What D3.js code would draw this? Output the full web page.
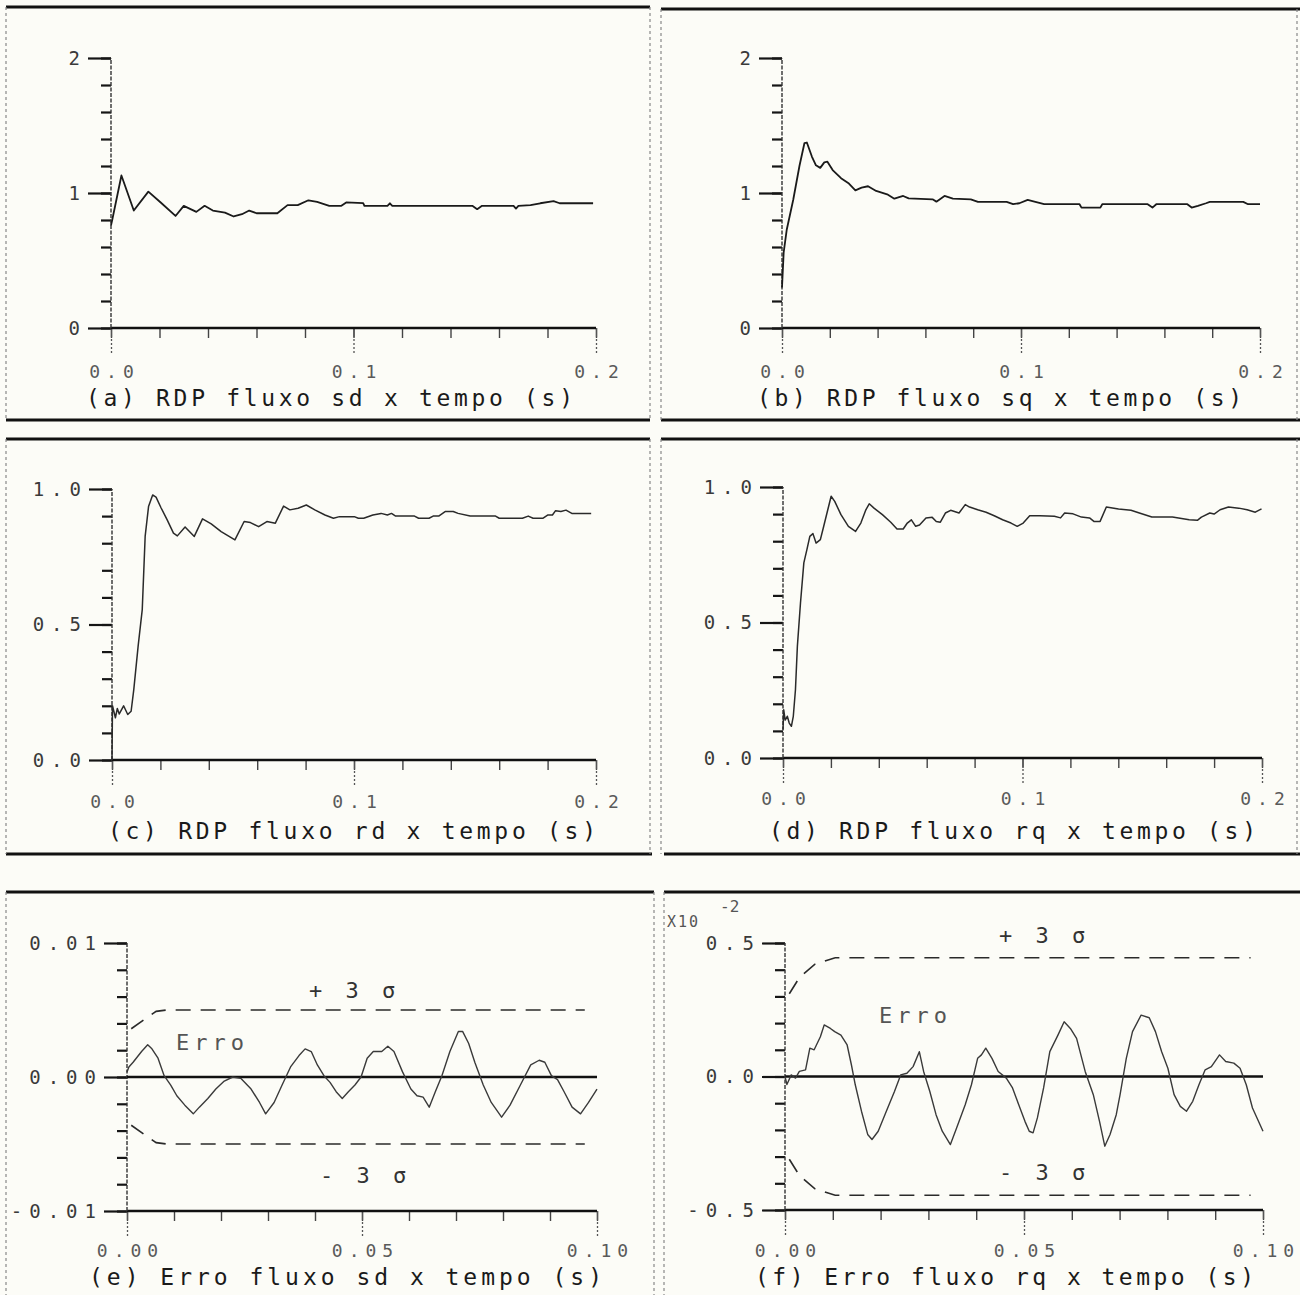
<!DOCTYPE html>
<html>
<head>
<meta charset="utf-8">
<script src="https://cdn.jsdelivr.net/npm/d3@7"></script>
<style>
  html, body { margin: 0; padding: 0; background: #fcfcf7; }
  svg { display: block; }
</style>
</head>
<body>
<svg id="chart" width="1300" height="1295"></svg>
<script>
// ---- data: [tempo (s), valor] ----
const fluxSd = [[0,0.76],[0.0005,0.80],[0.0043,1.13],[0.0094,0.87],[0.0154,1.01],[0.0205,0.93],[0.0266,0.83],
  [0.030,0.905],[0.0352,0.86],[0.0386,0.905],[0.042,0.87],[0.047,0.855],[0.0506,0.826],[0.054,0.843],[0.057,0.87],
  [0.060,0.85],[0.0686,0.85],[0.0728,0.91],[0.077,0.91],[0.0814,0.946],[0.085,0.934],[0.09,0.905],[0.095,0.905],
  [0.097,0.93],[0.104,0.925],[0.1045,0.905],[0.114,0.905],[0.115,0.924],[0.116,0.905],[0.149,0.905],[0.151,0.88],
  [0.153,0.905],[0.166,0.905],[0.167,0.885],[0.168,0.905],[0.173,0.91],[0.177,0.924],[0.1825,0.94],[0.185,0.924],[0.1988,0.924]]

const fluxSq = [[0,0.30],[0.0007,0.56],[0.002,0.73],[0.0047,0.95],[0.0073,1.2],[0.0094,1.37],[0.0104,1.374],[0.0125,1.27],
  [0.0142,1.205],[0.016,1.186],[0.0177,1.227],[0.019,1.232],[0.0212,1.17],[0.0247,1.11],[0.028,1.07],[0.0307,1.02],
  [0.0333,1.04],[0.036,1.05],[0.0394,1.015],[0.044,0.99],[0.047,0.958],[0.0507,0.978],[0.053,0.96],[0.063,0.953],
  [0.0646,0.936],[0.068,0.978],[0.0715,0.958],[0.079,0.953],[0.082,0.934],[0.094,0.934],[0.0967,0.917],[0.0993,0.924],
  [0.1028,0.949],[0.106,0.934],[0.1097,0.917],[0.1245,0.917],[0.1253,0.892],[0.1332,0.892],[0.134,0.917],[0.153,0.917],
  [0.155,0.892],[0.1566,0.917],[0.1696,0.917],[0.1714,0.892],[0.174,0.905],[0.1774,0.924],[0.179,0.934],[0.193,0.934],
  [0.195,0.917],[0.2,0.917]]

const fluxRd = [[0,0],[0.0002,0.2],[0.0006,0.186],[0.0014,0.156],[0.0022,0.19],[0.003,0.17],[0.0048,0.2],[0.0065,0.168],
  [0.0079,0.18],[0.009,0.26],[0.0108,0.42],[0.0125,0.555],[0.0137,0.825],[0.0151,0.935],[0.0168,0.978],[0.0182,0.97],
  [0.0203,0.93],[0.0228,0.886],[0.0254,0.837],[0.027,0.827],[0.0302,0.86],[0.034,0.825],[0.0374,0.89],[0.041,0.871],
  [0.0451,0.843],[0.0508,0.812],[0.0546,0.88],[0.0572,0.876],[0.0606,0.861],[0.064,0.88],[0.0675,0.874],[0.0709,0.937],
  [0.0735,0.923],[0.0769,0.929],[0.0803,0.941],[0.0838,0.923],[0.088,0.904],[0.0915,0.892],[0.094,0.898],[0.1001,0.898],
  [0.1018,0.892],[0.104,0.892],[0.1078,0.904],[0.1112,0.91],[0.1138,0.904],[0.1155,0.91],[0.1172,0.9],[0.125,0.9],
  [0.1267,0.892],[0.131,0.892],[0.1327,0.9],[0.135,0.9],[0.1378,0.917],[0.141,0.917],[0.143,0.91],[0.148,0.9],
  [0.1585,0.9],[0.16,0.892],[0.1696,0.892],[0.172,0.9],[0.174,0.892],[0.178,0.892],[0.18,0.904],[0.182,0.904],
  [0.1833,0.92],[0.1855,0.917],[0.1876,0.922],[0.19,0.91],[0.198,0.91]]

const fluxRq = [[0,0.105],[0.0003,0.178],[0.0009,0.14],[0.0018,0.154],[0.0026,0.129],[0.0035,0.117],[0.0043,0.154],
  [0.0052,0.252],[0.006,0.412],[0.0073,0.572],[0.0087,0.72],[0.01,0.77],[0.0112,0.818],[0.0125,0.828],[0.0138,0.793],
  [0.0156,0.806],[0.017,0.855],[0.0187,0.916],[0.0201,0.966],[0.0216,0.947],[0.0242,0.898],[0.0273,0.855],[0.0303,0.836],
  [0.0325,0.867],[0.0346,0.916],[0.036,0.938],[0.038,0.922],[0.0415,0.898],[0.045,0.87],[0.0476,0.845],[0.0502,0.845],
  [0.0519,0.867],[0.0536,0.879],[0.0554,0.855],[0.057,0.86],[0.0597,0.886],[0.0623,0.888],[0.064,0.873],[0.0657,0.87],
  [0.0678,0.904],[0.07,0.914],[0.0735,0.904],[0.0761,0.935],[0.0779,0.926],[0.0813,0.916],[0.0848,0.907],[0.0882,0.894],
  [0.0917,0.879],[0.0952,0.867],[0.0978,0.855],[0.1003,0.867],[0.103,0.894],[0.1073,0.894],[0.1133,0.892],[0.1159,0.886],
  [0.1176,0.904],[0.1211,0.901],[0.1246,0.889],[0.128,0.886],[0.1298,0.873],[0.1324,0.873],[0.135,0.926],[0.1401,0.919],
  [0.1453,0.914],[0.1488,0.904],[0.154,0.889],[0.1626,0.889],[0.1696,0.879],[0.173,0.877],[0.1747,0.889],[0.1782,0.904],
  [0.18,0.9],[0.1825,0.916],[0.186,0.926],[0.1903,0.922],[0.1938,0.916],[0.1972,0.907],[0.1998,0.919]]

const errSd = [[0,0.00037],[0.0004,0.00075],[0.0013,0.0011],[0.0031,0.0019],[0.0044,0.0024],[0.0053,0.0021],[0.0066,0.0014],
  [0.0079,0.0001],[0.0093,-0.0006],[0.0106,-0.0014],[0.0123,-0.0021],[0.0141,-0.00275],[0.0154,-0.00225],[0.0172,-0.0016],
  [0.0189,-0.0009],[0.0207,-0.0003],[0.0225,0],[0.0242,-0.0001],[0.0264,-0.0009],[0.0282,-0.0019],[0.0295,-0.00275],
  [0.0313,-0.0019],[0.033,-0.0006],[0.0348,0.00075],[0.0366,0.0016],[0.0379,0.0021],[0.0392,0.0019],[0.0405,0.0009],
  [0.0419,0.0001],[0.0432,-0.0004],[0.0445,-0.0011],[0.0458,-0.0016],[0.0471,-0.0011],[0.0485,-0.0006],[0.0498,0],
  [0.0511,0.0014],[0.0524,0.0019],[0.0542,0.0019],[0.0555,0.0023],[0.0568,0.0019],[0.0586,0.0004],[0.0604,-0.0009],
  [0.0617,-0.0014],[0.063,-0.0015],[0.0643,-0.00225],[0.0656,-0.0011],[0.067,0.0001],[0.0687,0.0019],[0.0705,0.0034],
  [0.0714,0.0034],[0.0727,0.0025],[0.074,0.0011],[0.0758,-0.0006],[0.0775,-0.0019],[0.0797,-0.003],[0.0815,-0.0021],
  [0.0837,-0.0006],[0.0859,0.0009],[0.0877,0.00125],[0.0889,0.0011],[0.0903,0.0001],[0.0916,-0.0002],[0.093,-0.0011],
  [0.0947,-0.00225],[0.0965,-0.00275],[0.0982,-0.0019],[0.1,-0.0009]]

// x10^-2
const errRq = [[0,0],[0.0004,-0.03],[0.0013,0.006],[0.0022,-0.006],[0.003,0.019],[0.0043,0.025],[0.0052,0.106],[0.0061,0.1],
  [0.0074,0.149],[0.0082,0.193],[0.0095,0.18],[0.0104,0.168],[0.0117,0.155],[0.013,0.118],[0.0139,0.043],[0.0147,-0.031],
  [0.016,-0.13],[0.0173,-0.217],[0.0182,-0.236],[0.0195,-0.205],[0.0212,-0.13],[0.0229,-0.056],[0.0242,0.006],[0.0255,0.012],
  [0.0268,0.037],[0.0281,0.093],[0.029,0.019],[0.0303,-0.056],[0.0316,-0.143],[0.0329,-0.205],[0.0346,-0.255],[0.0359,-0.193],
  [0.0377,-0.106],[0.039,-0.031],[0.0403,0.068],[0.0411,0.081],[0.042,0.106],[0.0433,0.068],[0.0446,0.019],[0.0463,-0.006],
  [0.0476,-0.043],[0.0489,-0.106],[0.0502,-0.168],[0.0511,-0.205],[0.0519,-0.211],[0.0528,-0.155],[0.0541,-0.043],[0.0554,0.093],
  [0.0571,0.155],[0.0584,0.205],[0.0597,0.18],[0.061,0.143],[0.0628,0.019],[0.0645,-0.068],[0.0658,-0.168],[0.0669,-0.261],
  [0.068,-0.217],[0.0693,-0.143],[0.0701,-0.068],[0.0714,0.068],[0.0727,0.168],[0.0745,0.23],[0.0762,0.22],[0.0775,0.168],
  [0.0788,0.093],[0.0801,0.031],[0.0814,-0.068],[0.0827,-0.112],[0.084,-0.13],[0.0853,-0.093],[0.0866,-0.031],[0.0879,0.025],
  [0.0892,0.037],[0.0909,0.081],[0.0922,0.056],[0.0939,0.05],[0.0952,0.031],[0.0965,-0.031],[0.0978,-0.118],[0.1,-0.205]]

// 3 sigma envelopes (drawn as +/-)
const sigmaSd = [[0.0009,0.0036],[0.0035,0.00425],[0.0062,0.0049],[0.0085,0.005],[0.0974,0.005]]
const sigmaRq = [[0.0009,0.31],[0.003,0.37],[0.0062,0.42],[0.0105,0.445],[0.0974,0.445]]

// ticks and labels
const xTicksFlux = [0, 0.1, 0.2]
const xLabelsFlux = ["0.0", "0.1", "0.2"]
const xTicksErr = [0, 0.05, 0.1]
const xLabelsErr = ["0.00", "0.05", "0.10"]
const yTicksSs = [0, 1, 2]
const yLabelsSs = ["0", "1", "2"]
const yTicksRr = [0, 0.5, 1]
const yLabelsRr = ["0.0", "0.5", "1.0"]
const yTicksErrSd = [-0.01, 0, 0.01]
const yLabelsErrSd = ["-0.01", "0.00", "0.01"]
const yTicksErrRq = [-0.5, 0, 0.5]
const yLabelsErrRq = ["-0.5", "0.0", "0.5"]

const captions = ["(a) RDP fluxo sd x tempo (s)", "(b) RDP fluxo sq x tempo (s)",
  "(c) RDP fluxo rd x tempo (s)", "(d) RDP fluxo rq x tempo (s)",
  "(e) Erro fluxo sd x tempo (s)", "(f) Erro fluxo rq x tempo (s)"]

const MONO = '"DejaVu Sans Mono", "Liberation Mono", monospace'
const svg = d3.select("#chart")
svg.append("rect").attr("width", 1300).attr("height", 1295).attr("fill", "#fcfcf7")

// page frame (plotter sheets)
const hRules = [[6,650,7],[661,1300,9],[6,650,420],[661,1300,420],[6,650,439],[661,1300,439],
  [6,652,854],[664,1300,854],[6,654,892],[664,1300,892]]
const vRules = [[6,7,420],[650,7,420],[661,9,420],[1297,9,420],[6,439,854],[650,439,854],[661,439,854],[1297,439,854],
  [6,892,1295],[654,892,1295],[664,892,1295]]
svg.selectAll("line.hr").data(hRules).join("line").attr("class","hr")
  .attr("x1", d => d[0]).attr("x2", d => d[1]).attr("y1", d => d[2]).attr("y2", d => d[2])
  .attr("stroke", "#111").attr("stroke-width", 3)
svg.selectAll("line.vr").data(vRules).join("line").attr("class","vr")
  .attr("x1", d => d[0]).attr("x2", d => d[0]).attr("y1", d => d[1]).attr("y2", d => d[2])
  .attr("stroke", "#888").attr("stroke-width", 1.2).attr("stroke-dasharray", "3 3")

const panels = [
  {series: fluxSd, xDomain:[0,0.2], yDomain:[0,2], xRange:[111,596], yRange:[328,58], xTicks:xTicksFlux, xLabels:xLabelsFlux,
   yTicks:yTicksSs, yLabels:yLabelsSs, xLabelY:378, caption:captions[0], capX:[91,568], capY:406, stroke:"#1a1a1a", sw:1.8},
  {series: fluxSq, xDomain:[0,0.2], yDomain:[0,2], xRange:[782,1260], yRange:[328,58], xTicks:xTicksFlux, xLabels:xLabelsFlux,
   yTicks:yTicksSs, yLabels:yLabelsSs, xLabelY:378, caption:captions[1], capX:[762,1237], capY:406, stroke:"#1a1a1a", sw:1.8},
  {series: fluxRd, xDomain:[0,0.2], yDomain:[0,1], xRange:[112,596], yRange:[760,489], xTicks:xTicksFlux, xLabels:xLabelsFlux,
   yTicks:yTicksRr, yLabels:yLabelsRr, xLabelY:808, caption:captions[2], capX:[113,591], capY:839, stroke:"#2a2a2a", sw:1.5},
  {series: fluxRq, xDomain:[0,0.2], yDomain:[0,1], xRange:[783,1262], yRange:[758,487], xTicks:xTicksFlux, xLabels:xLabelsFlux,
   yTicks:yTicksRr, yLabels:yLabelsRr, xLabelY:805, caption:captions[3], capX:[774,1251], capY:839, stroke:"#2a2a2a", sw:1.5},
  {series: errSd, xDomain:[0,0.1], yDomain:[-0.01,0.01], xRange:[127,597], yRange:[1211,943], xTicks:xTicksErr, xLabels:xLabelsErr,
   yTicks:yTicksErrSd, yLabels:yLabelsErrSd, xLabelY:1257, caption:captions[4], capX:[94,597], capY:1285, stroke:"#3a3a3a", sw:1.4,
   sigma:sigmaSd, zero:true,
   notes:[["+ 3 σ",309,998],["- 3 σ",320,1183],["Erro",176,1050]]},
  {series: errRq, xDomain:[0,0.1], yDomain:[-0.5,0.5], xRange:[785,1263], yRange:[1210,943], xTicks:xTicksErr, xLabels:xLabelsErr,
   yTicks:yTicksErrRq, yLabels:yLabelsErrRq, xLabelY:1257, caption:captions[5], capX:[760,1249], capY:1285, stroke:"#3a3a3a", sw:1.4,
   sigma:sigmaRq, zero:true,
   notes:[["+ 3 σ",999,943],["- 3 σ",999,1180],["Erro",879,1023]]}
]

const tenths = d => d3.range(11).map(i => d[0] + i * (d[1] - d[0]) / 10)

function drawPanel(p) {
  const x = d3.scaleLinear().domain(p.xDomain).range(p.xRange)
  const y = d3.scaleLinear().domain(p.yDomain).range(p.yRange)
  const g = svg.append("g")
  const x0 = x(p.xDomain[0]), yBase = y(p.yDomain[0])

  // y ticks (minor + major with labels)
  const yMinor = g.append("g").attr("transform", `translate(${x0},0)`)
    .call(d3.axisLeft(y).tickValues(tenths(p.yDomain)).tickSize(10).tickFormat(""))
  yMinor.select(".domain").remove()
  yMinor.selectAll("line").attr("stroke", "#151515").attr("stroke-width", 2.2)

  const yMajor = g.append("g").attr("transform", `translate(${x0},0)`)
    .call(d3.axisLeft(y).tickValues(p.yTicks).tickSize(23).tickPadding(1).tickFormat((d, i) => p.yLabels[i]))
  yMajor.select(".domain").remove()
  yMajor.attr("font-family", MONO).attr("font-size", 19)
  yMajor.selectAll("line").attr("stroke", "#151515").attr("stroke-width", 2.2)
  yMajor.selectAll("text").attr("fill", "#3a3a3a").attr("letter-spacing", 7)

  // x ticks below the axis
  const xMinor = g.append("g").attr("transform", `translate(0,${yBase})`)
    .call(d3.axisBottom(x).tickValues(tenths(p.xDomain)).tickSize(10).tickFormat(""))
  xMinor.select(".domain").remove()
  xMinor.selectAll("line").attr("stroke", "#444").attr("stroke-width", 1.4)

  const xMajor = g.append("g").attr("transform", `translate(0,${yBase})`)
    .call(d3.axisBottom(x).tickValues(p.xTicks).tickSize(27).tickFormat((d, i) => p.xLabels[i]))
  xMajor.select(".domain").remove()
  xMajor.attr("font-family", MONO).attr("font-size", 18)
  xMajor.selectAll("line").attr("stroke", "#555").attr("stroke-width", 1.3).attr("stroke-dasharray", "9 2 2 2 2 2 2 2 2 2")
  xMajor.selectAll("text").attr("y", p.xLabelY - yBase).attr("dy", null).attr("dx", 3)
    .attr("fill", "#5a5a5a").attr("letter-spacing", 6)

  // axis lines
  g.append("line").attr("x1", x0).attr("x2", x(p.xDomain[1])).attr("y1", yBase).attr("y2", yBase)
    .attr("stroke", "#111").attr("stroke-width", 2.4)
  g.append("line").attr("x1", x0).attr("x2", x0).attr("y1", yBase).attr("y2", y(p.yDomain[1]))
    .attr("stroke", "#333").attr("stroke-width", 1.4).attr("stroke-dasharray", "4 1.5")
  if (p.zero) {
    g.append("line").attr("x1", x0).attr("x2", x(p.xDomain[1])).attr("y1", y(0)).attr("y2", y(0))
      .attr("stroke", "#111").attr("stroke-width", 2.4)
  }

  // 3 sigma bands
  if (p.sigma) {
    [1, -1].forEach(s => {
      g.append("path").datum(p.sigma)
        .attr("d", d3.line().x(d => x(d[0])).y(d => y(s * d[1])))
        .attr("fill", "none").attr("stroke", "#2a2a2a").attr("stroke-width", 1.6)
        .attr("stroke-dasharray", "15 10")
    })
  }

  // curve
  g.append("path").datum(p.series)
    .attr("d", d3.line().x(d => x(d[0])).y(d => y(d[1])))
    .attr("fill", "none").attr("stroke", p.stroke).attr("stroke-width", p.sw)
    .attr("stroke-linejoin", "round")

  // annotations
  if (p.notes) {
    g.selectAll("text.note").data(p.notes).join("text").attr("class", "note")
      .attr("x", d => d[1]).attr("y", d => d[2])
      .attr("font-family", MONO).attr("font-size", 22).attr("letter-spacing", 5)
      .attr("fill", d => d[0] === "Erro" ? "#555" : "#333")
      .text(d => d[0])
  }

  // caption
  g.append("text").attr("x", p.capX[0] - 5).attr("y", p.capY)
    .attr("textLength", p.capX[1] - p.capX[0] + 10).attr("lengthAdjust", "spacing")
    .attr("font-family", MONO).attr("font-size", 23).attr("fill", "#1a1a1a")
    .text(p.caption)
}

panels.forEach(drawPanel)

// axis multiplier for panel (f)
svg.append("text").attr("x", 667).attr("y", 927).attr("font-family", MONO).attr("font-size", 15)
  .attr("fill", "#555").attr("letter-spacing", 2).text("X10")
svg.append("text").attr("x", 720).attr("y", 912).attr("font-family", MONO).attr("font-size", 16)
  .attr("fill", "#555").text("-2")
</script>
</body>
</html>
